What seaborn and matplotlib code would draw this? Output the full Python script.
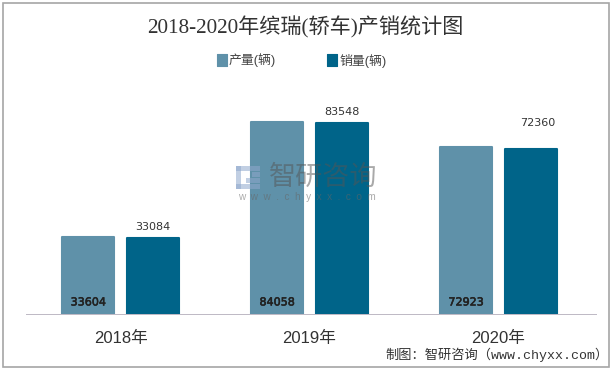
import matplotlib
matplotlib.use("Agg")
import matplotlib.pyplot as plt
import matplotlib.patheffects as pe
from matplotlib.patches import Rectangle
import seaborn as sns
import pandas as pd

years = ["2018年", "2019年", "2020年"]
production = [33604, 84058, 72923]
sales = [33084, 83548, 72360]
series_names = ["产量(辆)", "销量(辆)"]
title = "2018-2020年缤瑞(轿车)产销统计图"
source = "制图：智研咨询（www.chyxx.com）"

C1, C2 = "#5F91A9", "#006489"
W, H = 611, 369
SANS = ["Liberation Sans", "Noto Sans CJK SC", "DejaVu Sans"]
SERIF = ["Liberation Serif", "Noto Sans CJK SC", "DejaVu Sans"]
MONO = ["Liberation Mono", "Noto Sans CJK SC", "DejaVu Sans"]

sns.set_theme(style="white")
plt.rcParams["font.family"] = SANS

df = pd.DataFrame({
    "year": years * 2,
    "value": production + sales,
    "series": [series_names[0]] * 3 + [series_names[1]] * 3,
})

fig = plt.figure(figsize=(W / 100, H / 100), dpi=100, facecolor="white")
ax = fig.add_axes([26 / W, 1 - 314 / H, (596 - 26) / W, (314 - 70) / H])
sns.barplot(data=df, x="year", y="value", hue="series", order=years, hue_order=series_names,
            palette=[C1, C2], width=0.686, gap=0.19, legend=False, ax=ax, saturation=1)
ax.set_xlim(-0.5, 2.5 + 3 / 189)
ax.set_ylim(0, 84058 * 244 / 192)
ax.set_xlabel(""); ax.set_ylabel("")
ax.set_yticks([])
ax.set_xticks(range(3), years, fontsize=12, color="#333333")
ax.tick_params(axis="x", length=0, pad=12.5)
for s in ["top", "left", "right"]:
    ax.spines[s].set_visible(False)
ax.spines["bottom"].set_color("#BDB8C4")
ax.spines["bottom"].set_linewidth(0.7)
ax.spines["bottom"].set_linestyle((0, (1, 1)))

# small rounded corners through a round-joined outline
for i, p in enumerate(ax.patches[:6]):
    p.set_edgecolor(C1 if i < 3 else C2)
    p.set_linewidth(1.5)
    p.set_joinstyle("round")

for i, v in enumerate(production):
    ax.annotate(str(v), (i - 0.171, 0), xytext=(0, 4.7), textcoords="offset points",
                ha="center", va="bottom", fontsize=8, color="#222222",
                family=["DejaVu Sans"],
                path_effects=[pe.withStroke(linewidth=0.4, foreground="#222222")])
offsets = [(0, 4.5), (0, 4.5), (5, 15)]
for i, v in enumerate(sales):
    ax.annotate(str(v), (i + 0.171, v), xytext=offsets[i], textcoords="offset points",
                ha="center", va="bottom", fontsize=8, color="#333333",
                family=["DejaVu Sans"])

fig.text(305 / W, 1 - 27 / H, title, ha="center", va="center", fontsize=15.2,
         color="#333333", family=SERIF)

# legend
for x0, c, name in [(217, C1, series_names[0]), (327, C2, series_names[1])]:
    fig.patches.append(Rectangle((x0 / W, 1 - 66 / H), 10 / W, 12 / H, transform=fig.transFigure,
                                 facecolor=c, edgecolor=c, linewidth=0.8, joinstyle="round"))
    fig.text((x0 + 12) / W, 1 - 60.5 / H, name, ha="left", va="center", fontsize=9.3, color="#444444")

# watermark
for (x0, y0, w, h) in [(236, 166, 24, 5), (236, 166, 5, 23), (252, 172, 8, 5),
                       (246, 178, 14, 5), (236, 184, 24, 5)]:
    fig.patches.append(Rectangle((x0 / W, 1 - (y0 + h) / H), w / W, h / H, transform=fig.transFigure,
                                 facecolor="#8FA8CC", edgecolor="none", alpha=0.55, zorder=5))
fig.text(323.5 / W, 1 - 178 / H, "智研咨询", ha="center", va="center", fontsize=19.5,
         color="#555555", alpha=0.5, zorder=5)
fig.text(307 / W, 1 - 197 / H, "w  w  w  .  c  h  y  x  x  .  c  o  m", ha="center", va="center", fontsize=7.2,
         color="#666666", alpha=0.55, zorder=5)

fig.text(385 / W, 1 - 355 / H, source, ha="left", va="center", fontsize=9.5,
         color="#333333", family=MONO)

fig.patches.append(Rectangle((2.5 / W, 1 - 366.5 / H), 606 / W, 364 / H, transform=fig.transFigure,
                             facecolor="none", edgecolor="#A6A6A6", linewidth=1.2, zorder=6))

fig.savefig("out.png", dpi=100)
